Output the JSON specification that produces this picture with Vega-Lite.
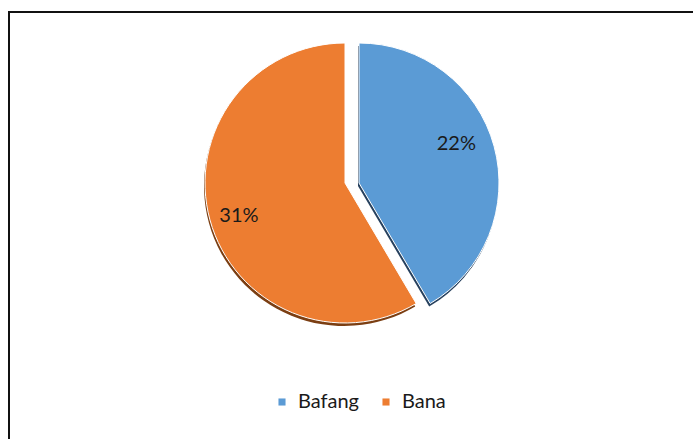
{
  "$schema": "https://vega.github.io/schema/vega-lite/v6.json",
  "width": 700,
  "height": 440,
  "padding": {"left": 9, "top": 12, "right": 0, "bottom": 0},
  "background": "white",
  "config": {"view": {"stroke": "#111111", "strokeWidth": 2}},
  "data": {"values": [
    {"category": "Bafang", "value": 22, "label": "22%"},
    {"category": "Bana", "value": 31, "label": "31%"}
  ]},
  "layer": [
    {
      "mark": {"type": "point", "opacity": 0},
      "encoding": {
        "x": {"field": "value", "type": "quantitative", "axis": null},
        "y": {"field": "value", "type": "quantitative", "axis": null}
      }
    },
    {
      "mark": {"type": "arc", "outerRadius": 140, "fill": "#7b3e12", "xOffset": -15, "yOffset": -46},
      "encoding": {
        "theta": {"field": "value", "type": "quantitative", "stack": true},
        "order": {"field": "category", "type": "ordinal", "sort": "ascending"},
        "detail": {"field": "category", "type": "nominal"},
        "opacity": {"condition": {"test": "datum.category === 'Bana'", "value": 1}, "value": 0}
      }
    },
    {
      "mark": {"type": "arc", "outerRadius": 140, "fill": "#27415e", "xOffset": -1, "yOffset": -46},
      "encoding": {
        "theta": {"field": "value", "type": "quantitative", "stack": true},
        "order": {"field": "category", "type": "ordinal", "sort": "ascending"},
        "detail": {"field": "category", "type": "nominal"},
        "opacity": {"condition": {"test": "datum.category === 'Bafang'", "value": 1}, "value": 0}
      }
    },
    {
      "mark": {"type": "arc", "outerRadius": 140, "stroke": "#ffffff", "strokeWidth": 1, "xOffset": -14, "yOffset": -49},
      "encoding": {
        "theta": {"field": "value", "type": "quantitative", "stack": true},
        "order": {"field": "category", "type": "ordinal", "sort": "ascending"},
        "color": {"field": "category", "type": "nominal",
          "scale": {"domain": ["Bafang", "Bana"], "range": ["#5b9bd5", "#ed7d31"]},
          "legend": {"orient": "none", "legendX": 263, "legendY": 380, "direction": "horizontal", "title": null,
            "symbolType": "square", "symbolSize": 50, "symbolStrokeWidth": 0, "labelFont": "Lato", "labelFontSize": 20,
            "labelColor": "#1a1a1a", "columnPadding": 16, "labelOffset": 6}},
        "opacity": {"condition": {"test": "datum.category === 'Bana'", "value": 1}, "value": 0}
      }
    },
    {
      "mark": {"type": "arc", "outerRadius": 140, "stroke": "#ffffff", "strokeWidth": 1, "xOffset": 0, "yOffset": -49},
      "encoding": {
        "theta": {"field": "value", "type": "quantitative", "stack": true},
        "order": {"field": "category", "type": "ordinal", "sort": "ascending"},
        "color": {"field": "category", "type": "nominal"},
        "opacity": {"condition": {"test": "datum.category === 'Bafang'", "value": 1}, "value": 0}
      }
    },
    {
      "mark": {"type": "text", "radius": 111, "font": "Lato", "fontSize": 20, "color": "#1a1a1a", "xOffset": -13, "yOffset": -45},
      "encoding": {
        "theta": {"field": "value", "type": "quantitative", "stack": true},
        "order": {"field": "category", "type": "ordinal", "sort": "ascending"},
        "detail": {"field": "category", "type": "nominal"},
        "text": {"field": "label"},
        "opacity": {"condition": {"test": "datum.category === 'Bana'", "value": 1}, "value": 0}
      }
    },
    {
      "mark": {"type": "text", "radius": 104, "font": "Lato", "fontSize": 20, "color": "#1a1a1a", "xOffset": -3, "yOffset": -61},
      "encoding": {
        "theta": {"field": "value", "type": "quantitative", "stack": true},
        "order": {"field": "category", "type": "ordinal", "sort": "ascending"},
        "detail": {"field": "category", "type": "nominal"},
        "text": {"field": "label"},
        "opacity": {"condition": {"test": "datum.category === 'Bafang'", "value": 1}, "value": 0}
      }
    }
  ]
}
